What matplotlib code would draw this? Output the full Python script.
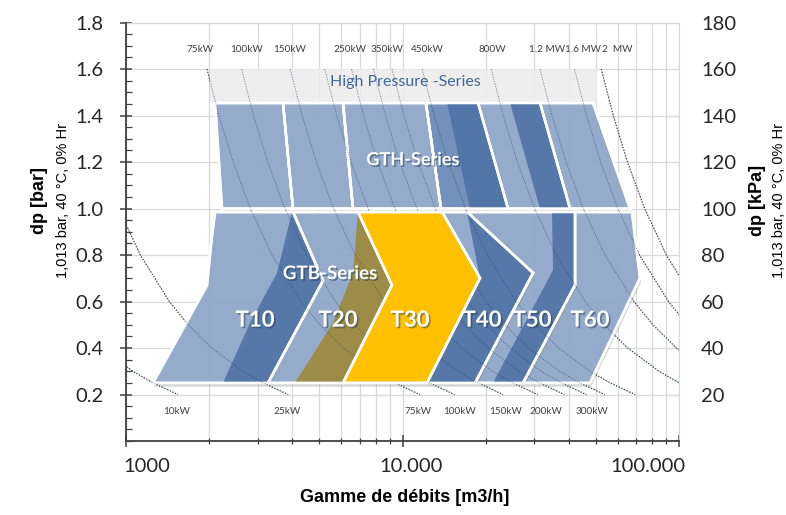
import matplotlib
matplotlib.use('Agg')
import matplotlib.pyplot as plt
from matplotlib.patches import Polygon
import matplotlib.patheffects as pe
from matplotlib.ticker import FixedLocator, NullFormatter

# ---------------- data ----------------
# iso-power curves: flow [m3/h] read at these pressure levels [bar]
dp_levels = [1.6, 1.4, 1.2, 1.0, 0.8, 0.6, 0.5, 0.4, 0.3, 0.25, 0.2]
iso_flow = {
    '10kW':   [262, 289, 326, 376, 450, 573, 670, 816, 1059, 1252, 1540],
    '25kW':   [655, 724, 815, 940, 1127, 1434, 1678, 2042, 2650, 3133, 3856],
    '75kW':   [1963, 2168, 2440, 2815, 3374, 4293, 5025, 6116, 7937, 9385, 11548],
    '100kW':  [2618, 2892, 3255, 3756, 4500, 5727, 6703, 8158, 10587, 12518, 15404],
    '150kW':  [3925, 4337, 4881, 5631, 6748, 8587, 10050, 12232, 15874, 18770, 23096],
    '200kW':  [5236, 5785, 6510, 7511, 9001, 11454, 13405, 16316, 21174, 25037, 30807],
    '250kW':  [6543, 7229, 8136, 9387, 11248, 14314, 16752, 20390, 26461, 31288, 38499],
    '300kW':  [7853, 8677, 9765, 11267, 13501, 17181, 20107, 24474, 31761, 37555, 46211],
    '350kW':  [9161, 10122, 11391, 13142, 15749, 20041, 23455, 28549, 37047, 43807, 53903],
    '450kW':  [11778, 13014, 14646, 16897, 20249, 25768, 30157, 36707, 47634, 56325, 69306],
    '800kW':  [20942, 23139, 26041, 30044, 36003, 45816, 53620, 65265, 84695, 100147, 123228],
    '1.2MW':  [31413, 34709, 39061, 45066, 54005, 68724, 80431, 97898, 127042, 150221, 184842],
    '1.6MW':  [41884, 46279, 52082, 60088, 72007, 91632, 107241, 130530, 169390, 200294, 246456],
    '2MW':    [52356, 57849, 65102, 75110, 90009, 114540, 134051, 163163, 211737, 250368, 308070],
}

top_power_labels = ['75kW', '100kW', '150kW', '250kW', '350kW', '450kW', '800W', '1.2 MW', '1.6 MW', '2  MW']
top_power_flow = [1852, 2739, 3919, 6458, 8788, 12260, 21070, 33300, 44960, 59700]
bottom_power_labels = ['10kW', '25kW', '75kW', '100kW', '150kW', '200kW', '300kW']
bottom_power_flow = [1529, 3822, 11380, 16140, 23670, 33040, 48450]

# series areas: (flow [m3/h], dp [bar]) vertices
high_pressure_band = [(2013, 1.454), (2013, 1.6), (50500, 1.6), (50500, 1.454)]

gth_seg1 = [(2099, 1.454), (2225, 1.0), (4018, 1.0), (3697, 1.454)]
gth_seg2 = [(3697, 1.454), (4018, 1.0), (6620, 1.0), (6093, 1.454)]
gth_seg3 = [(6093, 1.454), (6620, 1.0), (13780, 1.0), (12160, 1.454)]
gth_seg4 = [(12160, 1.454), (13780, 1.0), (24070, 1.0), (18760, 1.454)]
gth_seg4_band = [(14490, 1.454), (17540, 1.0), (24070, 1.0), (18760, 1.454)]
gth_seg5 = [(18760, 1.454), (24070, 1.0), (40350, 1.0), (31430, 1.454)]
gth_seg5_band = [(24480, 1.454), (31430, 1.0), (40350, 1.0), (31430, 1.454)]
gth_seg6 = [(31430, 1.454), (40350, 1.0), (66500, 1.0), (48870, 1.454)]

t10_area = [(1252, 0.25), (1963, 0.67), (2029, 0.843), (2099, 0.985), (4018, 0.985), (5158, 0.69), (3263, 0.25)]
t10_core = [(2243, 0.25), (2809, 0.508), (3517, 0.723), (3985, 0.985), (4018, 0.985), (5158, 0.69), (3263, 0.25)]
t20_area = [(3263, 0.25), (5158, 0.69), (4018, 0.985), (6903, 0.985), (9163, 0.671), (6093, 0.25)]
t20_core = [(4086, 0.25), (5606, 0.508), (6620, 0.723), (6903, 0.985), (9163, 0.671), (6093, 0.25)]
t30_area = [(6093, 0.25), (9163, 0.671), (6903, 0.985), (13900, 0.985), (19060, 0.701), (12260, 0.25)]
t40_area = [(12260, 0.25), (19060, 0.701), (13900, 0.985), (17120, 0.985), (29650, 0.723), (18290, 0.25)]
t40_core = [(12260, 0.25), (19060, 0.701), (17120, 0.985), (29650, 0.723), (18290, 0.25)]
t50_area = [(18290, 0.25), (29650, 0.723), (17120, 0.985), (42060, 0.985), (42060, 0.671), (27280, 0.25)]
t50_core = [(21250, 0.25), (35020, 0.735), (34740, 0.985), (42060, 0.985), (42060, 0.671), (27280, 0.25)]
t60_area = [(27280, 0.25), (42060, 0.671), (42060, 0.985), (67600, 0.985), (72270, 0.701), (47650, 0.25)]

type_labels = ['T10', 'T20', 'T30', 'T40', 'T50', 'T60']
type_label_flow = [2930, 5845, 10650, 19390, 29400, 47650]

x_tick_values = [1000, 10000, 100000]
x_tick_labels = ['1000', '10.000', '100.000']
x_label_flow = [1191, 10700, 77300]
y_ticks_bar = [0.2, 0.4, 0.6, 0.8, 1.0, 1.2, 1.4, 1.6, 1.8]
y_ticks_kpa = [20, 40, 60, 80, 100, 120, 140, 160, 180]

# ---------------- styling ----------------
LIGHT = '#8fa8ca'
MID = '#6b8cb9'
DARK = '#5074a6'
OLIVE = '#9d8c47'
YELLOW = '#ffc000'
GRID = '#d9d9d9'
TXT = '#262626'
FONT = 'Lato'

fig = plt.figure(figsize=(7.86, 5.15), dpi=100)
ax = fig.add_axes([126 / 786, 1 - 441 / 515, 553 / 786, 418.4 / 515])
ax.set_xscale('log')
ax.set_xlim(1000, 100000)
ax.set_ylim(0, 1.8)

# grid
ax.set_yticks(y_ticks_bar)
ax.yaxis.set_minor_locator(FixedLocator([i * 0.05 for i in range(37)]))
ax.xaxis.set_major_locator(FixedLocator(x_tick_values))
minor_x = [m * d for d in (1000, 10000) for m in range(2, 10)]
ax.xaxis.set_minor_locator(FixedLocator(minor_x))
ax.xaxis.set_minor_formatter(NullFormatter())
ax.set_xticklabels([])
for v in y_ticks_bar:
    ax.axhline(v, color=GRID, lw=0.9, zorder=0)
for v in minor_x + x_tick_values:
    ax.axvline(v, color=GRID, lw=0.9, zorder=0)

for s in ('top', 'right'):
    ax.spines[s].set_color(GRID)
for s in ('left', 'bottom'):
    ax.spines[s].set_color('#404040')
    ax.spines[s].set_linewidth(1.3)
ax.spines['left'].set_zorder(10)
ax.spines['bottom'].set_zorder(10)
ax.tick_params(axis='y', which='major', direction='inout', length=8, width=1.1, color='#404040',
               labelsize=14.5, labelcolor=TXT, pad=12)
ax.tick_params(axis='y', which='minor', direction='in', length=4, width=0.9, color='#404040')
ax.tick_params(axis='x', which='major', direction='inout', length=8, width=1.1, color='#404040')
ax.tick_params(axis='x', which='minor', direction='inout', length=5, width=0.9, color='#404040')
ax.set_yticklabels([f'{v:.1f}' for v in y_ticks_bar], family=FONT)

for lab, xq in zip(x_tick_labels, x_label_flow):
    ax.text(xq, -0.06, lab, transform=ax.get_xaxis_transform(), ha='center', va='center',
            fontsize=14.5, color=TXT, family=FONT)

# iso-power curves (dotted): full strength on the background, faint through the areas
for name, flows in iso_flow.items():
    ax.plot(flows, dp_levels, color='#303030', lw=0.8, ls=(0, (1, 1.6)), zorder=1)
    ax.plot(flows, dp_levels, color='#1d3557', lw=0.7, ls=(0, (1, 1.6)), alpha=0.55, zorder=4.5)

shadow = [pe.SimplePatchShadow(offset=(0.8, -2.8), shadow_rgbFace='#808080', alpha=0.3), pe.Normal()]

def area(verts, color, edge='white', lw=1.8, alpha=0.93, z=2, effects=None):
    p = Polygon(verts, closed=True, facecolor=color, edgecolor=edge, lw=lw, alpha=alpha,
                zorder=z, joinstyle='miter')
    if effects:
        p.set_path_effects(effects)
    ax.add_patch(p)

area(high_pressure_band, '#ececec', edge='none', lw=0, alpha=0.85, z=1.5)
for seg in (gth_seg1, gth_seg2, gth_seg3):
    area(seg, LIGHT, effects=shadow)
area(gth_seg4, MID, effects=shadow)
area(gth_seg4_band, DARK, edge='none', lw=0, z=2.1)
area(gth_seg5, LIGHT, effects=shadow)
area(gth_seg5_band, DARK, edge='none', lw=0, z=2.1)
area(gth_seg6, LIGHT, effects=shadow)

area(t60_area, LIGHT, effects=shadow, z=3)
area(t50_area, LIGHT, effects=shadow, z=3.1)
area(t50_core, DARK, edge='none', lw=0, z=3.2)
area(t40_area, LIGHT, effects=shadow, z=3.3)
area(t40_core, DARK, edge='none', lw=0, z=3.4)
area(t10_area, LIGHT, effects=shadow, z=3)
area(t10_core, DARK, edge='none', lw=0, z=3.2)
area(t20_area, LIGHT, effects=shadow, z=3.3)
area(t20_core, OLIVE, edge='none', lw=0, alpha=1, z=3.4)
area(t30_area, YELLOW, alpha=1, effects=shadow, z=4.6)
# white outlines on top
for verts in (t10_area, t20_area, t40_area, t50_area, t60_area,
              gth_seg1, gth_seg2, gth_seg3, gth_seg4, gth_seg5, gth_seg6):
    ax.add_patch(Polygon(verts, closed=True, facecolor='none', edgecolor='white', lw=1.8, zorder=4))
ax.add_patch(Polygon(t30_area, closed=True, facecolor='none', edgecolor='white', lw=1.8, zorder=4.7))

tshadow = [pe.withSimplePatchShadow(offset=(1.2, -1.2), shadow_rgbFace='#1f3550', alpha=0.45)]
for lab, xq in zip(type_labels, type_label_flow):
    t = ax.text(xq, 0.52, lab, ha='center', va='center', fontsize=16, fontweight='bold',
                color='white', family=FONT, zorder=6)
    t.set_path_effects(tshadow)
t = ax.text(5470, 0.72, 'GTB-Series', ha='center', va='center', fontsize=13.5, fontweight='bold',
            color='white', family=FONT, zorder=6)
t.set_path_effects(tshadow)
t = ax.text(10900, 1.21, 'GTH-Series', ha='center', va='center', fontsize=13, fontweight='bold',
            color='white', family=FONT, zorder=6)
t.set_path_effects(tshadow)
ax.text(10200, 1.544, 'High Pressure -Series', ha='center', va='center', fontsize=11.5,
        color='#41689b', family=FONT, zorder=6)

for lab, xq in zip(top_power_labels, top_power_flow):
    ax.text(xq, 1.686, lab, ha='center', va='center', fontsize=7.2, color='#404040', family=FONT, zorder=6)
for lab, xq in zip(bottom_power_labels, bottom_power_flow):
    ax.text(xq, 0.125, lab, ha='center', va='center', fontsize=7.2, color='#404040', family=FONT, zorder=6)

# right axis in kPa
ax2 = ax.twinx()
ax2.set_ylim(0, 180)
ax2.set_yticks(y_ticks_kpa)
ax2.set_yticklabels([str(v) for v in y_ticks_kpa], family=FONT)
ax2.tick_params(axis='y', length=0, labelsize=14.5, labelcolor=TXT, pad=16)
for s in ax2.spines.values():
    s.set_visible(False)

# axis titles
fig.text(40 / 786, 1 - 200 / 515, 'dp [bar]', rotation=90, ha='center', va='center',
         fontsize=13, fontweight='bold', family='Liberation Sans', color='black')
fig.text(63 / 786, 1 - 200 / 515, '1,013 bar, 40 °C, 0% Hr', rotation=90, ha='center', va='center',
         fontsize=10.5, family='Liberation Sans', color='black')
fig.text(757 / 786, 1 - 200 / 515, 'dp [kPa]', rotation=90, ha='center', va='center',
         fontsize=13, fontweight='bold', family='Liberation Sans', color='black')
fig.text(779 / 786, 1 - 200 / 515, '1,013 bar, 40 °C, 0% Hr', rotation=90, ha='center', va='center',
         fontsize=10.5, family='Liberation Sans', color='black')
fig.text(405 / 786, 1 - 497 / 515, 'Gamme de débits [m3/h]', ha='center', va='center',
         fontsize=13, fontweight='bold', family='Liberation Sans', color='black')

fig.savefig('out.png', dpi=100)
